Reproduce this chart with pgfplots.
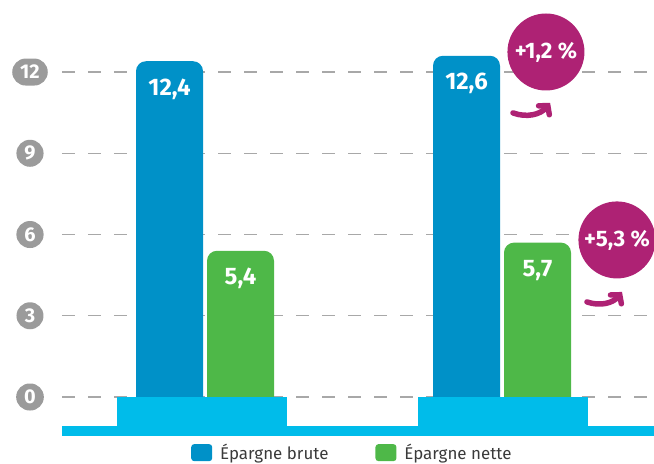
\documentclass[border=0pt]{standalone}
\usepackage{pgfplots}
\pgfplotsset{compat=1.18}
\usepackage{fontspec}
\setmainfont{Fira Sans}
\usetikzlibrary{arrows.meta}
\definecolor{cblue}{HTML}{0091C8}
\definecolor{cgreen}{HTML}{4EB848}
\definecolor{ccyan}{HTML}{00BCEA}
\definecolor{cmag}{HTML}{AE2274}
\definecolor{cgray}{HTML}{9B9B9B}
\definecolor{cgrid}{HTML}{A8A8A8}
\definecolor{ctext}{HTML}{3A3A3A}
\begin{document}
\begin{tikzpicture}
\path[use as bounding box] (-62bp,-28bp) rectangle (592bp,436bp);
\begin{axis}[
 scale only axis, width=592bp, height=436bp,
 xmin=-0.4815, xmax=1.5118, ymin=-1.44, ymax=14.66,
 y coord trafo/.code={\pgfmathparse{#1+1}},
 y coord inv trafo/.code={\pgfmathparse{#1-1}},
 axis line style={draw=none},
 xtick=\empty,
 ytick={0,3,6,9,12},
 yticklabels={0,3,6,9,12},
 major tick length=0pt,
 ymajorgrids,
 grid style={cgrid, line width=1.2bp, dash pattern=on 13bp off 13bp},
 yticklabel style={anchor=center, xshift=-32bp, fill=cgray, text=white,
   font=\bfseries\fontsize{20}{20}\selectfont, rounded corners=13.5bp,
   minimum height=27bp, minimum width=27bp, inner xsep=8bp, inner ysep=0bp},
 ybar=4bp, bar width=67bp,
 clip=false,
 point meta=explicit symbolic,
 nodes near coords,
 every node near coord/.append style={anchor=center, yshift=-28bp, text=white,
   font=\bfseries\fontsize{24}{24}\selectfont},
 legend style={at={(0.4905,0)}, anchor=north, yshift=-4bp, draw=none, fill=none,
   legend columns=2, font=\fontsize{17}{17}\selectfont, text=ctext,
   /tikz/every odd column/.append style={column sep=6bp},
   /tikz/every even column/.append style={column sep=45bp}},
 legend image code/.code={\fill[#1, rounded corners=3bp] (0bp,-8.5bp) rectangle (21bp,8.5bp);},
]
\addplot[fill=cblue, draw=none, rounded corners=10bp] coordinates {(0,12.4) [12,4] (1,12.6) [12,6]};
\addplot[fill=cgreen, draw=none, rounded corners=10bp] coordinates {(0,5.4) [5,4] (1,5.7) [5,7]};
\legend{Épargne brute, Épargne nette}
\fill[ccyan] (axis cs:-0.296,0) rectangle (axis cs:0.276,-1.07);
\fill[ccyan] (axis cs:0.718,0) rectangle (axis cs:1.290,-1.07);
\fill[ccyan] (axis cs:-0.4815,-1.07) rectangle (axis cs:1.5118,-1.44);
\node[circle, fill=cmag, minimum size=77bp, inner sep=0pt, text=white,
  font=\bfseries\fontsize{22.5}{22.5}\selectfont] at (axis cs:1.148,12.74) {+1,2 \%};
\node[circle, fill=cmag, minimum size=77bp, inner sep=0pt, text=white,
  font=\bfseries\fontsize{22.5}{22.5}\selectfont] at (axis cs:1.387,5.80) {+5,3 \%};
\draw[cmag, line width=5.5bp, line cap=round,
  -{Straight Barb[length=6bp, width=14bp, line cap=round]}]
  (axis cs:1.037,10.49) to[bend right=35] (axis cs:1.162,10.86);
\draw[cmag, line width=5.5bp, line cap=round,
  -{Straight Barb[length=6bp, width=14bp, line cap=round]}]
  (axis cs:1.286,3.51) to[bend right=35] (axis cs:1.404,3.88);
\end{axis}
\end{tikzpicture}
\end{document}
